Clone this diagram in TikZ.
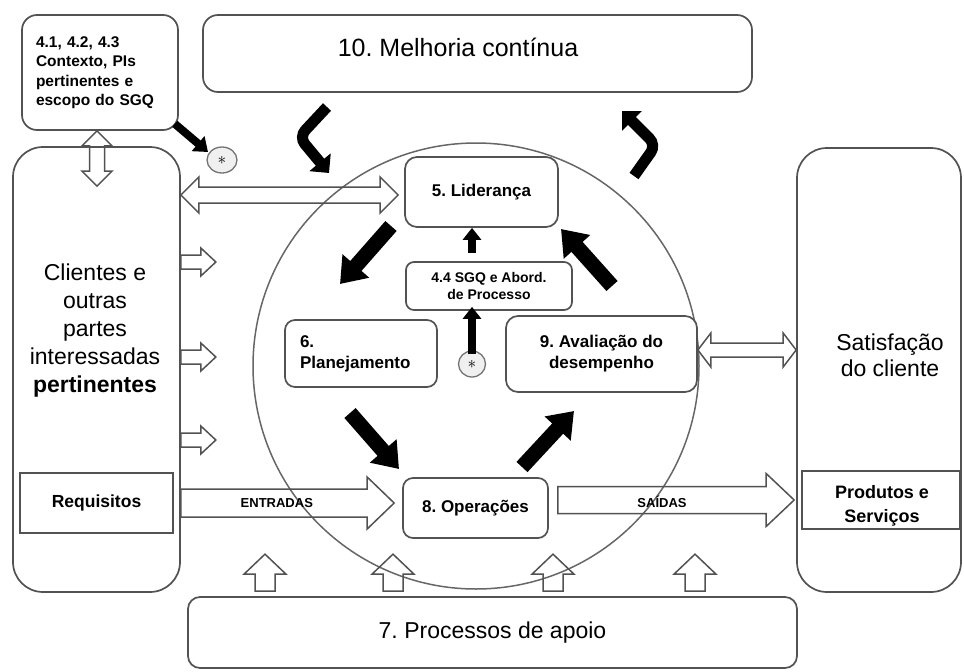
\documentclass[tikz,border=0pt]{standalone}
\usepackage{fontspec}
\setmainfont{Liberation Sans}
\usetikzlibrary{arrows.meta,calc,shapes.geometric}
\frenchspacing

% hollow block arrow: #1 start, #2 tip, #3 shaft half-width, #4 head half-width, #5 head length
\newcommand\blockarrow[5]{%
  \coordinate (bah) at ($(#2)!#5!(#1)$);
  \draw[hollow] ($(#1)!#3!90:(#2)$) -- ($(bah)!#3!-90:(#1)$) -- ($(bah)!#4!-90:(#1)$) -- (#2)
    -- ($(bah)!#4!90:(#1)$) -- ($(bah)!#3!90:(#1)$) -- ($(#1)!#3!-90:(#2)$) -- cycle;}
% hollow double block arrow
\newcommand\dblockarrow[5]{%
  \coordinate (daa) at ($(#1)!#5!(#2)$);
  \coordinate (dab) at ($(#2)!#5!(#1)$);
  \draw[hollow] (#1) -- ($(daa)!#4!90:(#2)$) -- ($(daa)!#3!90:(#2)$) -- ($(dab)!#3!-90:(#1)$)
    -- ($(dab)!#4!-90:(#1)$) -- (#2) -- ($(dab)!#4!90:(#1)$) -- ($(dab)!#3!90:(#1)$)
    -- ($(daa)!#3!-90:(#2)$) -- ($(daa)!#4!-90:(#2)$) -- cycle;}

\begin{document}
\begin{tikzpicture}[x=1pt,y=-1pt,
  box/.style={draw=black!68, line width=1.7pt, fill=white, rounded corners=#1, inner sep=0pt},
  box/.default=12pt,
  sqbox/.style={draw=black!68, line width=1.7pt, fill=white, inner sep=0pt},
  hollow/.style={draw=black!68, line width=1.5pt, line join=miter},
  bigtxt/.style={font=\fontsize{23}{28}\selectfont},
  bt/.style={font=\bfseries\fontsize{17}{21}\selectfont},
  bigarrow/.style={line width=15pt, -{Triangle[length=24pt,width=34pt]}},
  smallarrow/.style={line width=8pt, -{Triangle[length=12pt,width=18pt]}},
  curvearrow/.style={line width=11pt, rounded corners=9pt, -{Triangle[length=14pt,width=27pt]}},
  astnode/.style={draw=black!55, line width=1.3pt, fill=black!6, ellipse, inner sep=0pt}]
\useasboundingbox (0,0) rectangle (964,672);

% PDCA circle
\draw[draw=black!60, line width=1.5pt] (476,366) circle[radius=223];

% outer boxes
\node[box=15pt, minimum width=156pt, minimum height=115pt, text width=128pt, inner xsep=14pt,
      align=left, font=\bfseries\fontsize{15.5}{19.5}\selectfont] (ctx) at (100,72.5)
  {4.1, 4.2, 4.3\\Contexto, PIs\\pertinentes e\\escopo do SGQ};
\node[box=15pt, minimum width=549pt, minimum height=77pt] (mel) at (477.5,53.5) {};
\node[font=\fontsize{25}{28}\selectfont] (melt) at (458,47) {10. Melhoria contínua};
\node[box=30pt, minimum width=167pt, minimum height=445pt] (cli) at (96.5,369.5) {};
\node[bigtxt, align=center] (clit) at (95,331)
  {Clientes e\\outras\\partes\\interessadas\\\textbf{pertinentes}};
\node[sqbox, minimum width=153pt, minimum height=60pt, font=\bfseries\fontsize{17.5}{21}\selectfont] (req) at (96.5,503) {Requisitos};
\node[box=30pt, minimum width=164pt, minimum height=444pt] (sat) at (879,370) {};
\node[font=\fontsize{23}{26}\selectfont, align=center] (satt) at (890,355) {Satisfação\\do cliente};
\node[sqbox, minimum width=158pt, minimum height=58pt] (prod) at (881,500) {};
\node[align=center, font=\bfseries\fontsize{18}{24}\selectfont] (prodt) at (882,506) {Produtos e\\Serviços};
\node[box=12pt, minimum width=609pt, minimum height=71pt, bigtxt] (apo) at (492.5,632.5) {7. Processos de apoio};

% inner boxes
\node[box=12pt, minimum width=153pt, minimum height=70pt, bt] (lid) at (481.5,192) {\raisebox{-5pt}{5. Liderança}};
\node[box=8pt, minimum width=166pt, minimum height=48pt, align=center, font=\bfseries\fontsize{14}{17}\selectfont] (sgq) at (489,286) {4.4 SGQ e Abord.\\de Processo};
\node[box=10pt, minimum width=152pt, minimum height=67pt, text width=122pt, inner xsep=15pt, align=left, bt] (pla) at (361,353.5) {6.\\Planejamento};
\node[box=12pt, minimum width=191pt, minimum height=76pt, align=center, bt] (ava) at (601.5,354) {9. Avaliação do\\desempenho};
\node[box=10pt, minimum width=145pt, minimum height=60pt, bt] (ope) at (475.5,508) {8. Operações};

% asterisk markers
\node[astnode, minimum width=30pt, minimum height=26pt] (ast1) at (222,160) {\fontsize{16}{16}\selectfont$\ast$};
\node[astnode, minimum width=27pt, minimum height=26pt] (ast2) at (472,364) {\fontsize{16}{16}\selectfont$\ast$};

% hollow arrows
\coordinate (v1a) at (ctx.south -| 97,0);
\coordinate (v1b) at ($(v1a |- cli.north)+(0,40)$);
\dblockarrow{v1a}{v1b}{7.5pt}{15pt}{15pt}

\coordinate (h2a) at (cli.east |- 0,195);
\coordinate (h2b) at ($(lid.west |- 0,195)+(-6,0)$);
\dblockarrow{h2a}{h2b}{8pt}{18pt}{18pt}

\coordinate (h3a) at (ava.east |- 0,350);
\coordinate (h3b) at (sat.west |- 0,350);
\dblockarrow{h3a}{h3b}{7pt}{17pt}{13pt}

\foreach \yy [count=\i] in {262,357,440}{
  \coordinate (sa\i) at (cli.east |- 0,\yy);
  \coordinate (sb\i) at ($(sa\i)+(35,0)$);
  \blockarrow{sa\i}{sb\i}{7pt}{14pt}{15pt}
}

\coordinate (ena) at (cli.east |- req.east);
\coordinate (enb) at ($(ope.west |- req.east)+(-8,0)$);
\blockarrow{ena}{enb}{14pt}{26pt}{27pt}
\node[font=\bfseries\fontsize{13}{13}\selectfont] (ent) at ($(ena)!0.45!(enb)$) {ENTRADAS};

\coordinate (saa) at ($(ope.east |- 0,500)+(9,0)$);
\coordinate (sab) at ($(sat.west |- 0,500)+(-2,0)$);
\blockarrow{saa}{sab}{13.5pt}{26.5pt}{28pt}
\node[font=\bfseries\fontsize{13}{13}\selectfont] (sai) at (662,502) {SAÍDAS};

\foreach \xx [count=\i] in {265,393,553,695}{
  \coordinate (ua\i) at ($(apo.north -| \xx,0)+(0,-5)$);
  \coordinate (ub\i) at ($(apo.north -| \xx,0)+(0,-42)$);
  \blockarrow{ua\i}{ub\i}{10pt}{21pt}{20pt}
}

% black arrows
\coordinate (a1s) at (391,226); \coordinate (a1e) at (340,284);
\draw[bigarrow] (a1s) -- (a1e);
\coordinate (a4s) at (612,286); \coordinate (a4e) at (561,229);
\draw[bigarrow] (a4s) -- (a4e);
\coordinate (a5s) at (350,413); \coordinate (a5e) at (399,469);
\draw[bigarrow] (a5s) -- (a5e);
\coordinate (a6s) at (522,467); \coordinate (a6e) at (574,411);
\draw[bigarrow] (a6s) -- (a6e);

\draw[smallarrow, shorten <=8pt] (sgq.north -| ast2) -- (lid.south -| ast2);
\draw[smallarrow, shorten <=-4pt, shorten >=-4pt] (ast2.north) -- (ast2.north |- sgq.south);
\draw[line width=8pt, -{Triangle[length=13pt,width=19pt]}] (ctx.south east) ++(-4,-7) coordinate (a7s) -- (208,152) coordinate (a7e);

% curved arrows
\coordinate (c1a) at (327,107); \coordinate (c1b) at (299,137); \coordinate (c1c) at (329,173);
\draw[curvearrow] (c1a) -- (c1b) -- (c1c);
\coordinate (c2a) at (634,176); \coordinate (c2b) at (656,145); \coordinate (c2c) at (622,111);
\draw[curvearrow] (c2a) -- (c2b) -- (c2c);
\end{tikzpicture}
\end{document}
